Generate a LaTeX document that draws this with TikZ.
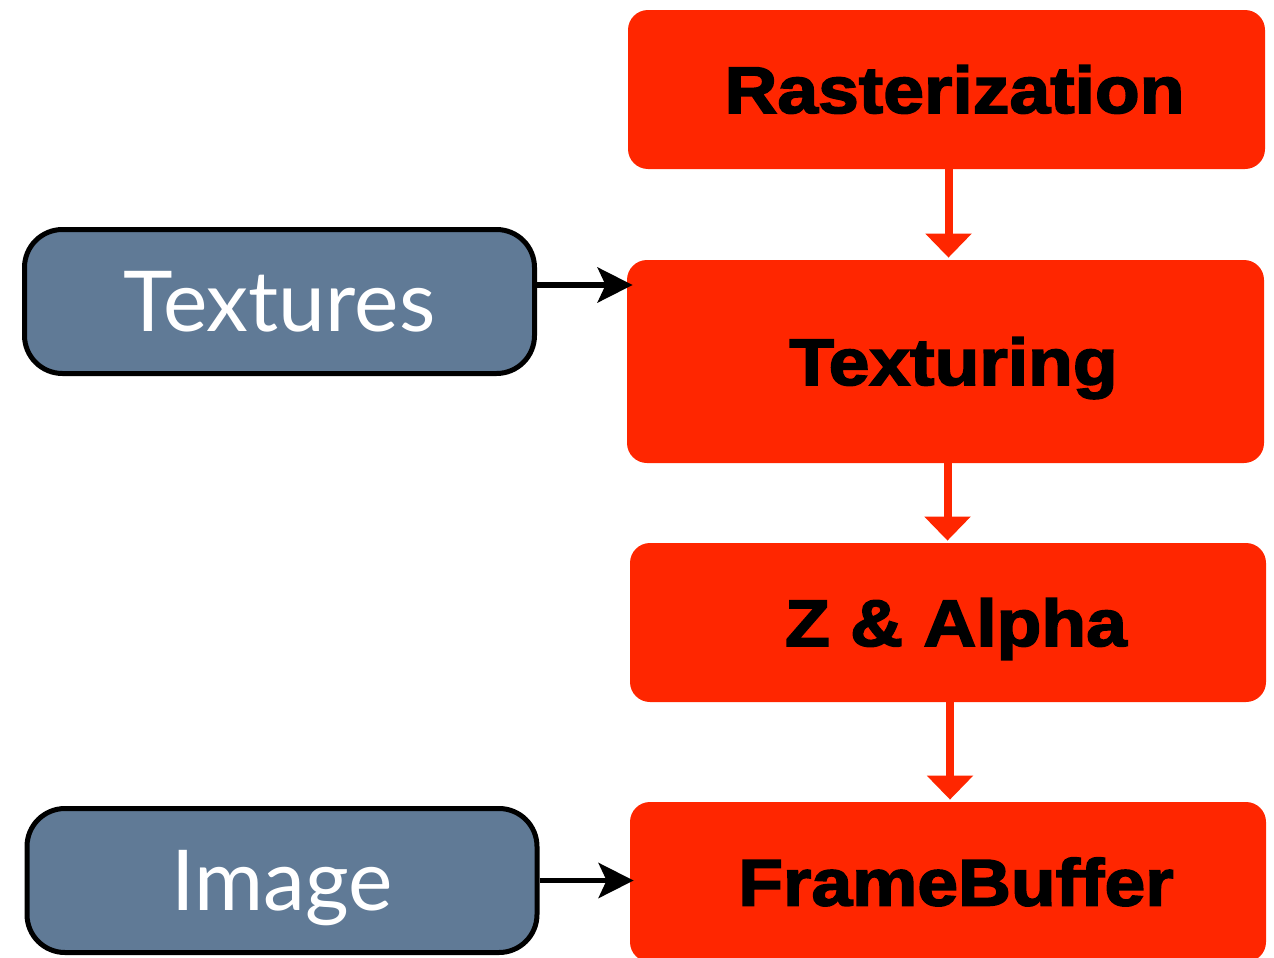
\documentclass[tikz,border=0pt]{standalone}
\usepackage{fontspec}
\usetikzlibrary{arrows.meta}
\newfontfamily\heavyfont[FakeStretch=1.11,FakeBold=2.5]{Liberation Sans Bold}
\newfontfamily\humanist{Lato}
\definecolor{stagered}{RGB}{255,38,0}
\definecolor{slate}{RGB}{96,122,150}
\begin{document}
\begin{tikzpicture}[x=0.5pt,y=-0.5pt,
  stage/.style={fill=stagered, rounded corners=10pt, inner sep=0pt,
    minimum width=318.5pt,
    font=\heavyfont\fontsize{33}{33}\selectfont,
    text height=23.5pt, text depth=0pt,
    execute at begin node=\hspace*{8pt}},
  source/.style={fill=slate, draw=black, line width=2.5pt, rounded corners=19pt,
    inner sep=0pt, minimum width=255pt, minimum height=72pt,
    text=white, font=\humanist\fontsize{42}{42}\selectfont,
    text height=30pt, text depth=0pt},
  flow/.style={draw=stagered, line width=4pt,
    -{Triangle[width=22.5pt,length=12pt]}, shorten >=1pt},
  feed/.style={draw=black, line width=2.75pt,
    -{Stealth[length=17.5pt,width=17.5pt,inset=4pt]}}
]
\useasboundingbox (0,0) rectangle (1274,958);
\clip (0,0) rectangle (1274,958);

% pipeline stages
\node[stage, minimum height=79.5pt]  (ras) at (946.5,89.5)  {Rasterization};
\node[stage, minimum height=101.5pt] (tex) at (945.5,361.5) {Texturing};
\node[stage, minimum height=79.5pt, minimum width=318pt] (zal) at (948,622.5) {Z \& Alpha};
\node[stage, minimum height=80pt, minimum width=318pt]   (fb)  at (948,882)   {FrameBuffer};

% data sources
\node[source] (txs) at (279.5,301.5) {Textures};
\node[source] (img) at (282,880.5)   {Image};

% flow between stages
\draw[flow] ([xshift=1pt]ras.south) -- ([xshift=1pt]ras.south |- tex.north);
\draw[flow] ([xshift=1pt]tex.south) -- ([xshift=1pt]tex.south |- zal.north);
\draw[flow] ([xshift=1pt]zal.south) -- ([xshift=1pt]zal.south |- fb.north);

% inputs
\coordinate (txsout) at ([yshift=8.25pt]txs.east);
\draw[feed, shorten >=-3pt] (txsout) -- (txsout -| tex.west);
\draw[feed, shorten >=-2pt] (img.east) -- (img.east -| fb.west);
\end{tikzpicture}
\end{document}
